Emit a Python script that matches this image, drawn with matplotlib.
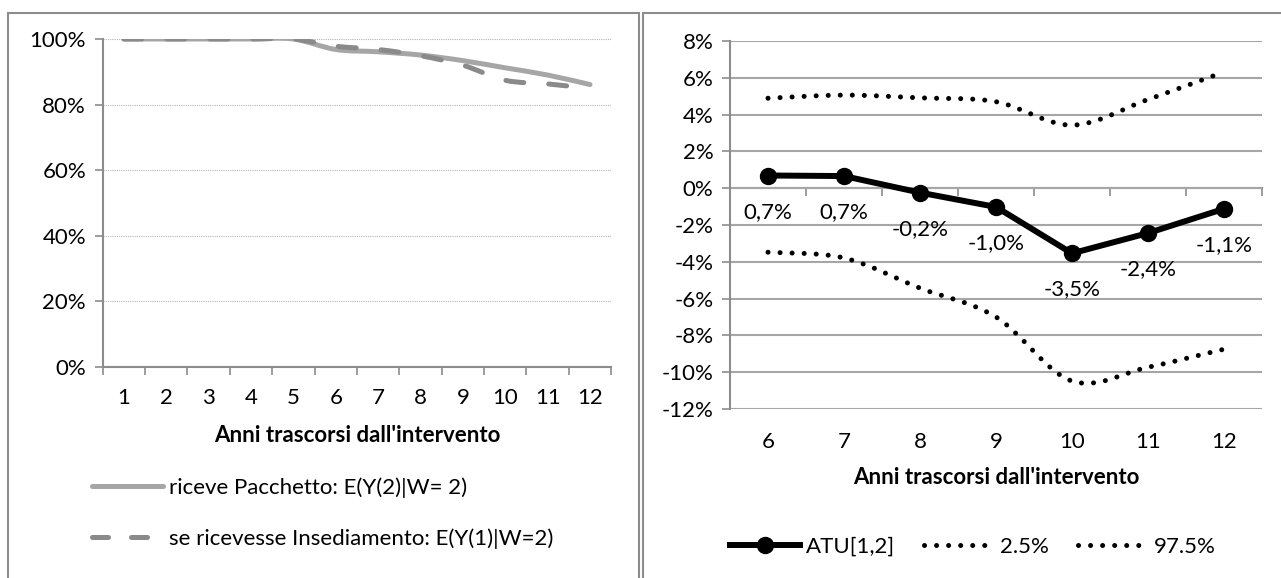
import matplotlib
matplotlib.use("Agg")
import matplotlib.pyplot as plt
from matplotlib.path import Path
from matplotlib.patches import PathPatch, Rectangle
from matplotlib.lines import Line2D
from matplotlib.ticker import FuncFormatter, FixedLocator

plt.rcParams['font.family'] = ['Lato', 'DejaVu Sans']

# Left chart data
anni_sx = [1, 2, 3, 4, 5, 6, 7, 8, 9, 10, 11, 12]
pacchetto = [1.0, 1.0, 1.0, 1.0, 1.0, 0.968, 0.961, 0.951, 0.934, 0.912, 0.890, 0.861]
insediamento = [1.0, 1.0, 1.0, 1.0, 1.0, 0.978, 0.968, 0.949, 0.920, 0.874, 0.863, 0.849]

# Right chart data
anni_dx = [6, 7, 8, 9, 10, 11, 12]
atu = [0.0069, 0.0066, -0.0024, -0.0102, -0.0354, -0.0244, -0.0112]
low_25 = [-0.0348, -0.0379, -0.0543, -0.0700, -0.1048, -0.0973, -0.0875]
high_975 = [0.0489, 0.0506, 0.0491, 0.0470, 0.0343, 0.0482, 0.0632]

W, H = 1281, 578
PX = 72 / 100  # points per pixel
GRAY_AX = '#8c8c8c'
GRAY_GRID = '#a6a6a6'
XLABEL = "Anni trascorsi dall'intervento"


# Excel-like smoothed line as a bezier path in data coordinates
def smooth_path(xs, ys):
    pts = list(zip(xs, ys))
    verts = [pts[0]]
    codes = [Path.MOVETO]
    n = len(pts)
    for i in range(n - 1):
        p0 = pts[i - 1] if i > 0 else pts[i]
        p1 = pts[i]
        p2 = pts[i + 1]
        p3 = pts[i + 2] if i + 2 < n else pts[i + 1]
        c1 = (p1[0] + (p2[0] - p0[0]) / 6, p1[1] + (p2[1] - p0[1]) / 6)
        c2 = (p2[0] - (p3[0] - p1[0]) / 6, p2[1] - (p3[1] - p1[1]) / 6)
        verts += [c1, c2, p2]
        codes += [Path.CURVE4] * 3
    return Path(verts, codes)


def pct(v, _):
    return f"{v * 100:.0f}%"


fig = plt.figure(figsize=(W / 100, H / 100), dpi=100)

# pick a font size so the axis title is as wide as in the original (287 px)
probe = fig.text(0, 0, XLABEL, fontsize=14, fontweight='bold')
fig.canvas.draw()
FS = 14 * 287 / probe.get_window_extent().width
probe.remove()
FS_PX = FS / PX

# panel frames
fig.patches.append(Rectangle((8 / W, -0.1), 631 / W, 1.1 - 13 / H, transform=fig.transFigure,
                             fill=False, edgecolor=GRAY_AX, lw=1.5))
fig.patches.append(Rectangle((643 / W, -0.1), 0.5, 1.1 - 13 / H, transform=fig.transFigure,
                             fill=False, edgecolor=GRAY_AX, lw=1.5))

# ---------- left chart ----------
ax1 = fig.add_axes([102.7 / W, 1 - 366.7 / H, 508.5 / W, 327.7 / H])
xs1 = list(range(len(anni_sx)))
ax1.add_patch(PathPatch(smooth_path(xs1, pacchetto), fill=False, edgecolor='#a6a6a6', lw=3.6,
                        capstyle='round', joinstyle='round', zorder=3))
ax1.add_patch(PathPatch(smooth_path(xs1, insediamento), fill=False, edgecolor='#8a8a8a', lw=3.6,
                        linestyle=(0, (3.6, 5.0)), capstyle='round', joinstyle='round', zorder=4))
ax1.set_xlim(-0.5, len(anni_sx) - 0.5)
ax1.set_ylim(0, 1)
ax1.yaxis.set_major_locator(FixedLocator([0, 0.2, 0.4, 0.6, 0.8, 1.0]))
ax1.yaxis.set_major_formatter(FuncFormatter(pct))
ax1.set_xticks(xs1)
ax1.set_xticklabels([str(a) for a in anni_sx])
ax1.set_xticks([x + 0.5 for x in xs1[:-1]] + [-0.5, len(anni_sx) - 0.5], minor=True)
ax1.tick_params(axis='x', which='major', length=0, pad=31 * PX, labelsize=FS)
ax1.tick_params(axis='x', which='minor', length=6, color=GRAY_AX, width=1.2, direction='out')
ax1.tick_params(axis='y', length=6, color=GRAY_AX, width=1.2, labelsize=FS, pad=6)
for lbl in ax1.get_xticklabels():
    lbl.set_va('center')
ax1.grid(axis='y', color='#b4b4b4', linestyle=(0, (1, 1)), lw=0.8)
for s in ['top', 'right']:
    ax1.spines[s].set_visible(False)
for s in ['left', 'bottom']:
    ax1.spines[s].set_color(GRAY_AX)
    ax1.spines[s].set_linewidth(1.5)
ax1.set_xlabel(XLABEL, fontsize=FS, fontweight='bold', va='center')
ax1.xaxis.set_label_coords(0.5, -(435 - 366.7) / 327.7)

h_sol = Line2D([], [], color='#a6a6a6', lw=3.6, solid_capstyle='round')
h_dash = Line2D([], [], color='#8a8a8a', lw=3.6, linestyle=(0, (3.2, 4.6)), dash_capstyle='round')
fig.legend([h_sol, h_dash],
           ['riceve Pacchetto: E(Y(2)|W= 2)', 'se ricevesse Insediamento: E(Y(1)|W=2)'],
           loc='center left', bbox_to_anchor=(92 / W, 1 - 513 / H), frameon=False,
           borderpad=0, borderaxespad=0, fontsize=FS,
           handlelength=71 / FS_PX, handletextpad=6 / FS_PX, labelspacing=1.35)

# ---------- right chart ----------
ax2 = fig.add_axes([730 / W, 1 - 409 / H, 532 / W, 368 / H])
xs2 = list(range(len(anni_dx)))
for band in (low_25, high_975):
    ax2.add_patch(PathPatch(smooth_path(xs2, band), fill=False, edgecolor='black', lw=3.6,
                            linestyle=(0, (0.01, 2.4)), capstyle='round', zorder=3))
ax2.plot(xs2, atu, color='black', lw=4.3, marker='o', markersize=11.5, zorder=4)
for x, v in zip(xs2, atu):
    ax2.annotate(f"{v * 100:.1f}%".replace('.', ','), (x, v), xytext=(0, -26),
                 textcoords='offset points', ha='center', va='center', fontsize=FS)
ax2.set_xlim(-0.5, len(anni_dx) - 0.5)
ax2.set_ylim(-0.12, 0.08)
ax2.yaxis.set_major_locator(FixedLocator([-0.12 + 0.02 * i for i in range(11)]))
ax2.yaxis.set_major_formatter(FuncFormatter(pct))
ax2.set_xticks(xs2)
ax2.set_xticklabels([str(a) for a in anni_dx])
ax2.tick_params(axis='x', length=0, pad=32.7 * PX, labelsize=FS)
ax2.tick_params(axis='y', length=6, color=GRAY_AX, width=1.2, labelsize=FS, pad=6)
for lbl in ax2.get_xticklabels():
    lbl.set_va('center')
ax2.grid(axis='y', color=GRAY_GRID, lw=1.5)
for s in ['top', 'right', 'bottom']:
    ax2.spines[s].set_visible(False)
ax2.spines['left'].set_color(GRAY_AX)
ax2.spines['left'].set_linewidth(1.5)
ax2.set_xlabel(XLABEL, fontsize=FS, fontweight='bold', va='center')
ax2.xaxis.set_label_coords(0.5, -(478 - 409) / 368)

# x axis crossing at zero
sec = ax2.secondary_xaxis(0, transform=ax2.transData)
sec.set_xticks([x - 0.5 for x in xs2] + [len(anni_dx) - 0.5])
sec.set_xticklabels([])
sec.tick_params(length=6, color=GRAY_AX, width=1.2, direction='out')
sec.spines['bottom'].set_color(GRAY_AX)
sec.spines['bottom'].set_linewidth(1.5)

h_atu = Line2D([], [], color='black', lw=4.3, marker='o', markersize=11.5)
h_dot = Line2D([], [], color='black', lw=3.6, linestyle=(0, (0.01, 2.4)), dash_capstyle='round')
fig.legend([h_atu, h_dot, h_dot], ['ATU[1,2]', '2.5%', '97.5%'],
           loc='center left', bbox_to_anchor=(730 / W, 1 - 547 / H), ncol=3, frameon=False,
           borderpad=0, borderaxespad=0, fontsize=FS,
           handlelength=70 / FS_PX, handletextpad=6 / FS_PX, columnspacing=29 / FS_PX)

fig.savefig('out.png', dpi=100)
